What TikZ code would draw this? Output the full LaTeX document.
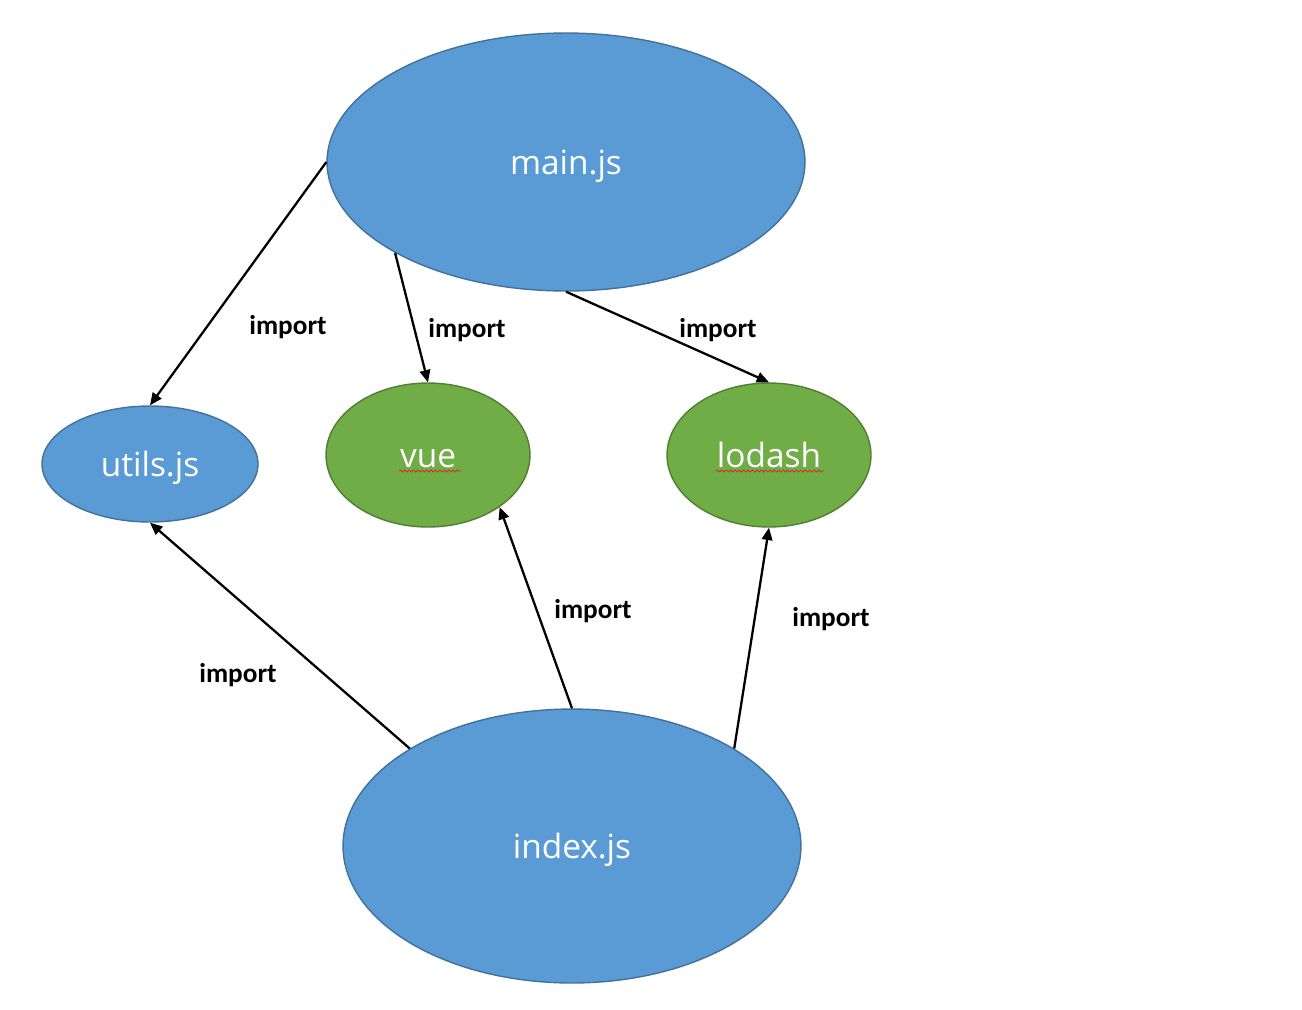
\documentclass[tikz,border=0pt]{standalone}
\usepackage{fontspec}
\setmainfont{Open Sans}
\newfontfamily\labfont{Carlito}
\usepackage{xcolor}
\usetikzlibrary{shapes.geometric,arrows.meta,decorations.pathmorphing}
\definecolor{bluefill}{HTML}{5B9BD5}
\definecolor{blueline}{HTML}{41719C}
\definecolor{greenfill}{HTML}{70AD47}
\definecolor{greenline}{HTML}{507E32}
\definecolor{squig}{HTML}{E02020}
\tikzset{
  mod/.style={ellipse, inner sep=0pt, line width=0.8pt, text=white, text height=14pt, text depth=0pt, font=\fontsize{19}{22}\selectfont},
  bluemod/.style={mod, fill=bluefill, draw=blueline},
  greenmod/.style={mod, fill=greenfill, draw=greenline},
  imp/.style={draw=black, line width=1.3pt, -{Triangle[length=7pt,width=6pt]}},
  lab/.style={text=black, font=\labfont\bfseries\fontsize{15.5}{18}\selectfont},
  spell/.style={draw=squig, line width=0.4pt, decorate, decoration={snake, amplitude=0.6pt, segment length=2.5pt}},
}

\begin{document}
\begin{tikzpicture}[x=0.02cm,y=-0.02cm]
  \useasboundingbox (0,0) rectangle (1302,1009);
  % modules
  \node[bluemod, minimum width=9.56cm, minimum height=5.16cm] (mainjs) at (566,162) {main.js};
  \node[bluemod, minimum width=4.32cm, minimum height=2.32cm] (utils) at (150,464) {utils.js};
  \node[greenmod, minimum width=4.08cm, minimum height=2.88cm] (vue) at (428,455) {vue};
  \node[greenmod, minimum width=4.08cm, minimum height=2.88cm] (lodash) at (769,455) {lodash};
  \node[bluemod, minimum width=9.16cm, minimum height=5.48cm] (indexjs) at (572,846) {index.js};
  % spell check marks
  \draw[spell] (399,471) -- (461,471);
  \draw[spell] (716,471) -- (824,471);
  % imports of main.js
  \draw[imp] (mainjs.west) -- (utils.north);
  \draw[imp] (mainjs.208) -- (vue.north);
  \draw[imp] (mainjs.south) -- (lodash.north);
  % imports of index.js
  \draw[imp] (indexjs.149) -- (utils.south);
  \draw[imp] (indexjs.north) -- (vue.-36);
  \draw[imp] (indexjs.31) -- (lodash.south);
  % labels
  \node[lab] (l1) at (288,327) {import};
  \node[lab] (l2) at (467,330) {import};
  \node[lab] (l3) at (718,330) {import};
  \node[lab] (l4) at (238,675) {import};
  \node[lab] (l5) at (593,611) {import};
  \node[lab] (l6) at (831,619) {import};
\end{tikzpicture}
\end{document}
